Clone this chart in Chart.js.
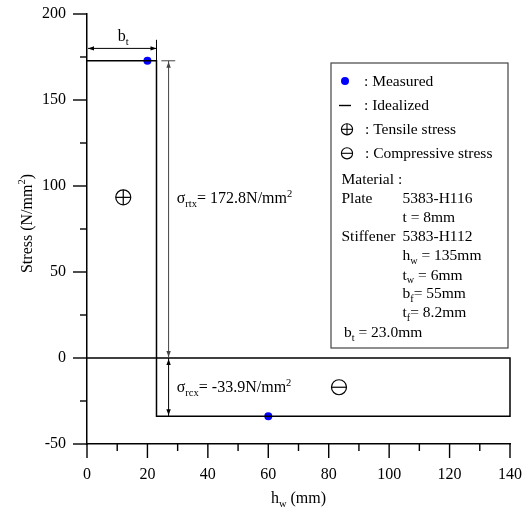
<!DOCTYPE html>
<html><head><meta charset="utf-8">
<script src="https://cdn.jsdelivr.net/npm/chart.js@4.4.0/dist/chart.umd.min.js"></script>
<style>html,body{margin:0;padding:0;background:#fff}</style>
</head><body>
<canvas id="c" width="524" height="511"></canvas>
<script>
// ---- data ----
const measuredX = [20, 60];
const measuredY = [172.8, -33.9];
const idealizedX = [0, 23, 23, 140, 140, 0];
const idealizedY = [172.8, 172.8, -33.9, -33.9, 0, 0];
const xTicks = [0, 20, 40, 60, 80, 100, 120, 140];
const yTicks = [-50, 0, 50, 100, 150, 200];
const xMinorTicks = [10, 30, 50, 70, 90, 110, 130];
const yMinorTicks = [-25, 25, 75, 125, 175];
const sigmaRtx = 172.8;
const sigmaRcx = -33.9;
const bt = 23.0;

const FONT = "'Liberation Serif', 'Times New Roman', serif";

function f(size) { return size + "px " + FONT; }

function partsWidth(ctx, parts, size) {
  let w = 0;
  for (const p of parts) {
    ctx.font = f(p.sub || p.sup ? size * 0.66 : size);
    w += ctx.measureText(p.t).width;
  }
  return w;
}
function drawParts(ctx, x, y, parts, size) {
  ctx.textBaseline = 'alphabetic';
  ctx.textAlign = 'left';
  for (const p of parts) {
    let s = size, dy = 0;
    if (p.sub) { s = size * 0.66; dy = size * 0.25; }
    if (p.sup) { s = size * 0.66; dy = -size * 0.38; }
    ctx.font = f(s);
    ctx.fillText(p.t, x, y + dy);
    x += ctx.measureText(p.t).width;
  }
}
function arrowHead(ctx, x, y, dir) {
  const L = 6, W = 2.2;
  ctx.beginPath();
  ctx.moveTo(x, y);
  if (dir === 'up') { ctx.lineTo(x - W, y + L); ctx.lineTo(x + W, y + L); }
  if (dir === 'down') { ctx.lineTo(x - W, y - L); ctx.lineTo(x + W, y - L); }
  if (dir === 'left') { ctx.lineTo(x + L, y - W); ctx.lineTo(x + L, y + W); }
  if (dir === 'right') { ctx.lineTo(x - L, y - W); ctx.lineTo(x - L, y + W); }
  ctx.closePath();
  ctx.fill();
}
function line(ctx, x1, y1, x2, y2) {
  ctx.beginPath(); ctx.moveTo(x1, y1); ctx.lineTo(x2, y2); ctx.stroke();
}
function circleSym(ctx, cx, cy, r, plus) {
  ctx.beginPath(); ctx.arc(cx, cy, r, 0, Math.PI * 2); ctx.stroke();
  line(ctx, cx - r, cy, cx + r, cy);
  if (plus) line(ctx, cx, cy - r, cx, cy + r);
}

const decorPlugin = {
  id: 'decor',
  afterDraw(chart) {
    const ctx = chart.ctx;
    const xs = chart.scales.x, ys = chart.scales.y;
    const X = v => xs.getPixelForValue(v), Y = v => ys.getPixelForValue(v);
    const area = chart.chartArea;
    ctx.save();
    ctx.strokeStyle = '#000';
    ctx.fillStyle = '#000';
    ctx.lineWidth = 1.4;
    // tick marks
    yTicks.forEach(v => line(ctx, area.left - 14, Y(v), area.left, Y(v)));
    yMinorTicks.forEach(v => line(ctx, area.left - 7, Y(v), area.left, Y(v)));
    xTicks.forEach(v => line(ctx, X(v), area.bottom, X(v), area.bottom + 14));
    xMinorTicks.forEach(v => line(ctx, X(v), area.bottom, X(v), area.bottom + 7));

    // b_t dimension
    ctx.lineWidth = 1;
    const yb = Y(180);
    line(ctx, X(0) + 1, yb, X(bt), yb);
    arrowHead(ctx, X(0) + 1, yb, 'left');
    arrowHead(ctx, X(bt), yb, 'right');
    line(ctx, X(bt), Y(sigmaRtx), X(bt), Y(185));
    drawParts(ctx, X(10.2), Y(184.5), [{t: 'b'}, {t: 't', sub: true}], 16);

    // sigma_rtx dimension
    const xa = X(27);
    ctx.strokeStyle = '#444'; ctx.fillStyle = '#444';
    line(ctx, X(24.6), Y(sigmaRtx), X(29.2), Y(sigmaRtx));
    line(ctx, xa, Y(sigmaRtx), xa, Y(0));
    arrowHead(ctx, xa, Y(sigmaRtx) + 1, 'up');
    arrowHead(ctx, xa, Y(0) - 1, 'down');
    ctx.strokeStyle = '#000'; ctx.fillStyle = '#000';
    line(ctx, xa, Y(0), xa, Y(sigmaRcx));
    arrowHead(ctx, xa, Y(0) + 1, 'up');
    arrowHead(ctx, xa, Y(sigmaRcx) - 1, 'down');

    drawParts(ctx, X(29.7), Y(89.9), [{t: 'σ'}, {t: 'rtx', sub: true}, {t: '= ' + sigmaRtx.toFixed(1) + 'N/mm'}, {t: '2', sup: true}], 16);
    drawParts(ctx, X(29.7), Y(-19.6), [{t: 'σ'}, {t: 'rcx', sub: true}, {t: '= ' + sigmaRcx.toFixed(1) + 'N/mm'}, {t: '2', sup: true}], 16);

    ctx.lineWidth = 1.2;
    circleSym(ctx, X(12), Y(93.4), 7.5, true);
    circleSym(ctx, X(83.4), Y(-17), 7.5, false);

    // legend box
    ctx.strokeStyle = '#444'; ctx.lineWidth = 1.2;
    ctx.strokeRect(331, 63, 177, 285);
    ctx.fillStyle = '#0000ff';
    ctx.beginPath(); ctx.arc(345, 81, 4, 0, Math.PI * 2); ctx.fill();
    ctx.strokeStyle = '#000'; ctx.fillStyle = '#000';
    ctx.lineWidth = 1.4;
    line(ctx, 339, 105.5, 351, 105.5);
    ctx.lineWidth = 1.1;
    circleSym(ctx, 347, 129.3, 5.6, true);
    circleSym(ctx, 347, 153.3, 5.6, false);
    const LS = 15.5;
    const VX = 402.5;
    drawParts(ctx, 364, 86, [{t: ': Measured'}], LS);
    drawParts(ctx, 364, 110, [{t: ': Idealized'}], LS);
    drawParts(ctx, 365, 134, [{t: ': Tensile stress'}], LS);
    drawParts(ctx, 365, 158, [{t: ': Compressive stress'}], LS);
    drawParts(ctx, 341.5, 184, [{t: 'Material :'}], LS);
    drawParts(ctx, 341.5, 203, [{t: 'Plate'}], LS);
    drawParts(ctx, VX, 203, [{t: '5383-H116'}], LS);
    drawParts(ctx, VX, 222, [{t: 't = 8mm'}], LS);
    drawParts(ctx, 341.5, 241, [{t: 'Stiffener'}], LS);
    drawParts(ctx, VX, 241, [{t: '5383-H112'}], LS);
    drawParts(ctx, VX, 260, [{t: 'h'}, {t: 'w', sub: true}, {t: ' = 135mm'}], LS);
    drawParts(ctx, VX, 279.5, [{t: 't'}, {t: 'w', sub: true}, {t: ' = 6mm'}], LS);
    drawParts(ctx, VX, 298, [{t: 'b'}, {t: 'f', sub: true}, {t: '= 55mm'}], LS);
    drawParts(ctx, VX, 317, [{t: 't'}, {t: 'f', sub: true}, {t: '= 8.2mm'}], LS);
    drawParts(ctx, 344, 337, [{t: 'b'}, {t: 't', sub: true}, {t: ' = ' + bt.toFixed(1) + 'mm'}], LS);

    // axis titles
    const xt = [{t: 'h'}, {t: 'w', sub: true}, {t: ' (mm)'}];
    const wx = partsWidth(ctx, xt, 16);
    drawParts(ctx, (area.left + area.right) / 2 - wx / 2, 503, xt, 16);
    const yt = [{t: 'Stress (N/mm'}, {t: '2', sup: true}, {t: ')'}];
    const wy = partsWidth(ctx, yt, 16);
    ctx.translate(31.5, 223.5);
    ctx.rotate(-Math.PI / 2);
    drawParts(ctx, -wy / 2, 0, yt, 16);
    ctx.restore();
  }
};

function zeroPad(s) { s.paddingLeft = 0; s.paddingRight = 0; s.paddingTop = 0; s.paddingBottom = 0; }

new Chart(document.getElementById('c'), {
  type: 'scatter',
  data: {
    datasets: [
      {
        label: 'Idealized',
        data: idealizedX.map((x, i) => ({x, y: idealizedY[i]})),
        showLine: true,
        borderColor: '#000',
        borderWidth: 1.5,
        pointRadius: 0,
        fill: false,
        tension: 0,
        clip: false
      },
      {
        label: 'Measured',
        data: measuredX.map((x, i) => ({x, y: measuredY[i]})),
        showLine: false,
        pointRadius: 4,
        pointBackgroundColor: '#0000ff',
        pointBorderColor: '#0000ff',
        pointBorderWidth: 0,
        clip: false
      }
    ]
  },
  options: {
    responsive: false,
    animation: false,
    events: [],
    layout: {padding: {left: 0, right: 14, top: 14, bottom: 0}},
    plugins: {legend: {display: false}, tooltip: {enabled: false}},
    scales: {
      x: {
        type: 'linear', min: 0, max: 140,
        afterBuildTicks: s => { s.ticks = xTicks.map(v => ({value: v})); },
        grid: {display: false, drawTicks: false},
        border: {display: true, color: '#000', width: 1.5},
        ticks: {color: '#000', font: {family: FONT, size: 16}, padding: 21, maxRotation: 0, autoSkip: false},
        afterFit: s => { s.height = 67; zeroPad(s); }
      },
      y: {
        type: 'linear', min: -50, max: 200,
        afterBuildTicks: s => { s.ticks = yTicks.map(v => ({value: v})); },
        grid: {display: false, drawTicks: false},
        border: {display: true, color: '#000', width: 1.5},
        ticks: {color: '#000', font: {family: FONT, size: 16}, padding: 21, autoSkip: false},
        afterFit: s => { s.width = 87; zeroPad(s); }
      }
    }
  },
  plugins: [decorPlugin]
});
</script>
</body></html>
